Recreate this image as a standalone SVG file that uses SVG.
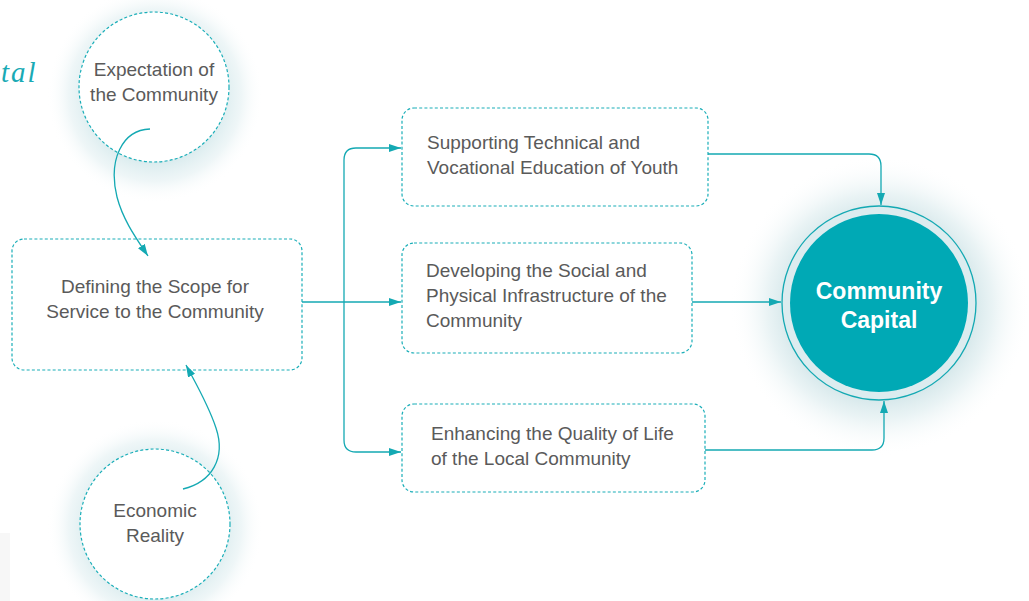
<svg xmlns="http://www.w3.org/2000/svg" width="1029" height="601" viewBox="0 0 1029 601">
  <defs>
    <radialGradient id="glowSmall" cx="0.5" cy="0.5" r="0.5">
      <stop offset="0.6" stop-color="#d3e8eb" stop-opacity="0.9"/>
      <stop offset="0.8" stop-color="#e3f0f2" stop-opacity="0.6"/>
      <stop offset="1" stop-color="#ffffff" stop-opacity="0"/>
    </radialGradient>
    <radialGradient id="glowBig" cx="0.5" cy="0.5" r="0.5">
      <stop offset="0.55" stop-color="#c9e0e4" stop-opacity="1"/>
      <stop offset="0.75" stop-color="#e0eef0" stop-opacity="0.7"/>
      <stop offset="1" stop-color="#ffffff" stop-opacity="0"/>
    </radialGradient>
    <marker id="arrow" viewBox="0 0 12 8" refX="12" refY="4" markerWidth="12" markerHeight="8" markerUnits="userSpaceOnUse" orient="auto">
      <path d="M0,0 L12,4 L0,8 Z" fill="#14a9b3"/>
    </marker>
    <style>
      .dash { fill: #ffffff; stroke: #1aaeb8; stroke-width: 1.2; stroke-dasharray: 3 2.2; }
      .conn { fill: none; stroke: #14a9b3; stroke-width: 1.3; }
      .lbl { font-family: "Liberation Sans", Arial, Helvetica, sans-serif; font-size: 19px; fill: #5a5a5a; }
      .mid { text-anchor: middle; }
      .big { font-family: "Liberation Sans", Arial, Helvetica, sans-serif; font-size: 23px; font-weight: bold; fill: #ffffff; text-anchor: middle; }
    </style>
  </defs>

  <rect x="0" y="533" width="10" height="68" fill="#f7f7f7"/>
  <text x="1" y="82" font-family="'Liberation Serif', 'DejaVu Serif', serif" font-style="italic" font-size="29" letter-spacing="2" fill="#1aaab5">tal</text>

  <g id="node-expectation">
    <circle cx="155" cy="95" r="108" fill="url(#glowSmall)"/>
    <circle class="dash" cx="154" cy="87" r="75"/>
    <text class="lbl mid" x="154" y="76">Expectation of</text>
    <text class="lbl mid" x="154" y="101">the Community</text>
  </g>

  <g id="node-economic">
    <circle cx="155" cy="527" r="108" fill="url(#glowSmall)"/>
    <circle class="dash" cx="155" cy="524" r="75"/>
    <text class="lbl mid" x="155" y="517">Economic</text>
    <text class="lbl mid" x="155" y="542">Reality</text>
  </g>

  <g id="node-scope">
    <rect class="dash" x="12" y="239" width="290" height="131" rx="12"/>
    <text class="lbl mid" x="155" y="293">Defining the Scope for</text>
    <text class="lbl mid" x="155" y="318">Service to the Community</text>
  </g>

  <g id="node-technical">
    <rect class="dash" x="402" y="108" width="306" height="98" rx="12"/>
    <text class="lbl" x="427" y="149">Supporting Technical and</text>
    <text class="lbl" x="427" y="174">Vocational Education of Youth</text>
  </g>

  <g id="node-infrastructure">
    <rect class="dash" x="402" y="243" width="290" height="110" rx="12"/>
    <text class="lbl" x="426" y="277">Developing the Social and</text>
    <text class="lbl" x="426" y="302">Physical Infrastructure of the</text>
    <text class="lbl" x="426" y="327">Community</text>
  </g>

  <g id="node-quality">
    <rect class="dash" x="402" y="404" width="303" height="88" rx="12"/>
    <text class="lbl" x="431" y="440">Enhancing the Quality of Life</text>
    <text class="lbl" x="431" y="465">of the Local Community</text>
  </g>

  <g id="node-capital">
    <circle cx="880" cy="306" r="150" fill="url(#glowBig)"/>
    <circle cx="879" cy="303" r="97" fill="#dcecef" stroke="#14a9b3" stroke-width="1.3"/>
    <circle cx="879" cy="303" r="89" fill="#00a9b5"/>
    <text class="big" x="879" y="299">Community</text>
    <text class="big" x="879" y="328">Capital</text>
  </g>

  <g id="connectors">
    <path class="conn" d="M150,129 C122,130 108,160 117,197 C123,220 136,238 148,256" marker-end="url(#arrow)"/>
    <path class="conn" d="M183,489 C212,482 226,458 216,428 C208,404 196,384 186,365" marker-end="url(#arrow)"/>
    <path class="conn" d="M302,302 H401" marker-end="url(#arrow)"/>
    <path class="conn" d="M344,302 V160 Q344,148 356,148 H401" marker-end="url(#arrow)"/>
    <path class="conn" d="M344,302 V440 Q344,452 356,452 H401" marker-end="url(#arrow)"/>
    <path class="conn" d="M708,154 H869 Q881,154 881,166 V205" marker-end="url(#arrow)"/>
    <path class="conn" d="M692,302 H781" marker-end="url(#arrow)"/>
    <path class="conn" d="M705,450 H872 Q884,450 884,438 V401" marker-end="url(#arrow)"/>
  </g>
</svg>
